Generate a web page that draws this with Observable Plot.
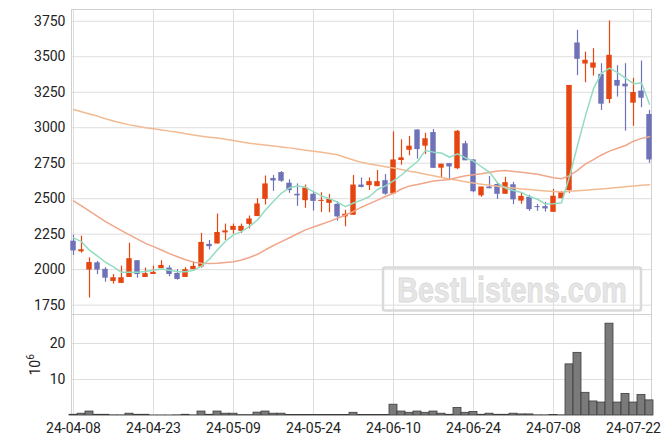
<!DOCTYPE html>
<html><head><meta charset="utf-8">
<script src="https://cdn.jsdelivr.net/npm/d3@7"></script>
<script src="https://cdn.jsdelivr.net/npm/@observablehq/plot@0.6"></script>
<style>
html,body{margin:0;padding:0;background:#fff;}
#wrap{position:relative;width:671px;height:444px;overflow:hidden;font-family:Roboto,sans-serif;}
#wrap > svg{position:absolute;left:0;}
#wrap > #vlabel{position:absolute;left:22px;top:355px;transform-origin:center;transform:rotate(-90deg);font-size:14px;line-height:16px;color:#222;white-space:nowrap;}
#vlabel sup{font-size:10px;}
</style></head>
<body><div id="wrap"></div>
<script>
const dates = ["24-04-08","24-04-09","24-04-11","24-04-12","24-04-15","24-04-16","24-04-17","24-04-18","24-04-19","24-04-22",
"24-04-23","24-04-24","24-04-25","24-04-26","24-04-29","24-04-30","24-05-02","24-05-03","24-05-07","24-05-08",
"24-05-09","24-05-10","24-05-13","24-05-14","24-05-16","24-05-17","24-05-20","24-05-21","24-05-22","24-05-23",
"24-05-24","24-05-27","24-05-28","24-05-29","24-05-30","24-05-31","24-06-03","24-06-04","24-06-05","24-06-07",
"24-06-10","24-06-11","24-06-12","24-06-13","24-06-14","24-06-17","24-06-18","24-06-19","24-06-20","24-06-21",
"24-06-24","24-06-25","24-06-26","24-06-27","24-06-28","24-07-01","24-07-02","24-07-03","24-07-04","24-07-05",
"24-07-08","24-07-09","24-07-10","24-07-11","24-07-12","24-07-15","24-07-16","24-07-17","24-07-18","24-07-19",
"24-07-22","24-07-23","24-07-24"];
const open = [2200,2126,1997,2048,2002,1917,1903,1945,2063,1945,1966,2007,2011,1973,1945,2000,2018,2178,2181,2259,
2277,2270,2319,2374,2495,2642,2684,2609,2531,2486,2531,2481,2467,2460,2372,2383,2596,2592,2585,2627,
2533,2769,2841,2984,2870,2966,2715,2747,2711,2887,2773,2520,2582,2600,2531,2598,2483,2510,2444,2444,
2404,2500,2557,3597,3449,3420,3376,3199,3333,3307,3173,3258,3093];
const high = [2243,2236,2083,2058,2014,1965,2025,2186,2063,2011,2025,2063,2027,2000,2014,2054,2255,2206,2392,2321,
2321,2321,2378,2500,2660,2663,2691,2633,2604,2596,2547,2542,2531,2479,2418,2663,2646,2646,2698,2670,
2971,2915,2939,2984,2961,2987,2743,2747,2980,2905,2773,2582,2656,2610,2651,2615,2538,2524,2460,2474,
2566,2552,3298,3686,3533,3557,3451,3752,3437,3451,3348,3470,3122];
const low = [2100,2116,1800,1965,1912,1898,1903,1945,1940,1945,1966,2007,1950,1926,1945,2000,2011,2139,2181,2206,
2250,2255,2287,2374,2455,2552,2616,2538,2446,2432,2413,2402,2401,2341,2302,2383,2577,2557,2585,2524,
2533,2736,2802,2779,2811,2714,2646,2627,2705,2767,2542,2510,2570,2495,2531,2458,2460,2411,2411,2406,
2404,2500,2538,3367,3317,3364,3122,3169,3216,2976,3010,3141,2750];
const close = [2132,2140,2050,1997,1940,1943,1943,2077,1966,1972,1981,2030,1966,1931,2000,2023,2192,2162,2262,2273,
2305,2305,2357,2463,2604,2625,2623,2557,2520,2575,2481,2488,2495,2372,2390,2596,2579,2620,2620,2532,
2773,2788,2870,2846,2922,2714,2743,2724,2975,2767,2549,2582,2570,2531,2613,2492,2516,2423,2437,2428,
2517,2543,3298,3482,3475,3456,3166,3510,3293,3288,3248,3208,2773];
const volume = [0.2,0.5,1.1,0.2,0.2,0.05,0.05,0.5,0.2,0.2,0.02,0.02,0.02,0.05,0.2,0.05,1.1,0.2,1.1,0.5,
0.5,0.1,0.1,0.8,1.1,0.5,0.5,0.15,0.15,0.12,0.12,0.12,0.12,0.12,0.15,0.75,0.15,0.12,0.12,0.15,
3.0,1.1,0.75,1.1,0.75,1.1,0.5,0.2,2.1,0.75,1.0,0.2,0.5,0.2,0.2,0.5,0.3,0.3,0.05,0.05,
0.15,0.05,14.2,17.4,6.3,3.9,3.6,25.5,3.6,6.0,3.6,5.7,4.2];
const ma5 = [2224,2197,2137,2095,2052,2019,1981,1981,1981,1987,1995,2005,1995,1985,1985,1995,2025,2075,2140,2200,
2245,2268,2305,2350,2420,2482,2540,2577,2590,2580,2550,2520,2500,2475,2444,2470,2490,2515,2565,2590,
2625,2667,2717,2762,2840,2828,2822,2792,2816,2787,2765,2725,2687,2612,2574,2558,2544,2515,2496,2462,
2464,2472,2655,2875,3085,3275,3385,3420,3388,3350,3310,3315,3166];
const ma20 = [2484,2450,2412,2375,2338,2307,2275,2245,2215,2185,2162,2138,2113,2091,2070,2053,2045,2043,2045,2050,
2056,2068,2086,2108,2140,2170,2197,2225,2253,2280,2300,2320,2340,2362,2385,2410,2440,2465,2490,2515,
2538,2568,2590,2600,2612,2624,2630,2636,2650,2662,2668,2675,2685,2695,2698,2692,2686,2680,2672,2660,
2648,2640,2662,2700,2745,2775,2808,2835,2855,2875,2905,2925,2937];
const ma60 = [3128,3112,3097,3082,3063,3048,3033,3020,3010,3000,2992,2984,2976,2968,2958,2948,2940,2933,2927,2918,
2910,2900,2891,2884,2878,2872,2865,2858,2850,2842,2834,2827,2819,2810,2790,2772,2756,2745,2735,2725,
2716,2705,2694,2685,2672,2662,2650,2639,2630,2620,2610,2602,2595,2588,2581,2575,2569,2564,2559,2555,
2550,2547,2552,2556,2560,2564,2568,2573,2578,2584,2589,2594,2598];
const priceTicks = [1750,2000,2250,2500,2750,3000,3250,3500,3750];
const volumeTicks = [10,20];
const xTicks = [0,10,20,30,40,50,60,70];

const UP = "#e5450f", DOWN = "#6e72b6";
const GREEN = "#93dcc2", ORANGE20 = "#efa68a", ORANGE60 = "#f2ba92";
const GRID = "#dedede", FRAME = "#d0d0d0";
const n = dates.length;
const idx = d3.range(n);
const candles = idx.map(i => ({i, o: open[i], h: high[i], l: low[i], c: close[i],
  col: close[i] >= open[i] ? UP : DOWN}));
const xDomain = [-0.25, n - 0.75];
const font = {fontFamily: "Roboto, sans-serif", fontSize: "14px", color: "#222", background: "transparent", overflow: "visible"};

const price = Plot.plot({
  width: 671, height: 314, marginLeft: 71, marginRight: 20, marginTop: 9, marginBottom: 0,
  style: font,
  color: {type: "identity"},
  x: {type: "linear", domain: xDomain, axis: null},
  y: {domain: [1684, 3833], ticks: priceTicks, tickSize: 0, tickPadding: 6, label: null, tickFormat: d => String(d)},
  marks: [
    Plot.gridX(xTicks, {stroke: GRID, strokeOpacity: 1}),
    Plot.gridY(priceTicks, {stroke: GRID, strokeOpacity: 1}),
    Plot.frame({stroke: FRAME}),
    Plot.ruleX(candles, {x: "i", y1: "l", y2: "h", stroke: "col", strokeWidth: 1.2}),
    Plot.rect(candles, {x1: d => d.i - 0.34, x2: d => d.i + 0.34, y1: "o", y2: "c", fill: "col"}),
    Plot.line(idx, {x: i => i, y: i => ma60[i], stroke: ORANGE60, strokeWidth: 1.5}),
    Plot.line(idx, {x: i => i, y: i => ma20[i], stroke: ORANGE20, strokeWidth: 1.5}),
    Plot.line(idx, {x: i => i, y: i => ma5[i], stroke: GREEN, strokeWidth: 1.5})
  ]
});
price.style.top = "0px";

const vol = Plot.plot({
  width: 671, height: 130, marginLeft: 71, marginRight: 20, marginTop: 0, marginBottom: 29,
  style: font,
  x: {type: "linear", domain: xDomain, ticks: xTicks, tickSize: 0, tickPadding: 8, label: null,
      tickFormat: i => dates[i]},
  y: {domain: [0, 28.05], ticks: volumeTicks, tickSize: 0, tickPadding: 6, label: null},
  marks: [
    Plot.gridX(xTicks, {stroke: GRID, strokeOpacity: 1}),
    Plot.gridY(volumeTicks, {stroke: GRID, strokeOpacity: 1}),
    Plot.frame({stroke: FRAME}),
    Plot.rectY(idx, {x1: i => i - 0.5, x2: i => i + 0.5, y: i => volume[i], fill: "#7a7a7a", stroke: "#3c3c3c", strokeWidth: 0.8}),
    Plot.ruleY([0], {stroke: "#aaa"})
  ]
});
vol.style.top = "314px";

const wrap = document.getElementById("wrap");
wrap.appendChild(price);
wrap.appendChild(vol);

const lab = document.createElement("div");
lab.id = "vlabel";
lab.innerHTML = "10<sup>6</sup>";
wrap.appendChild(lab);

const ns = "http://www.w3.org/2000/svg";
const wm = document.createElementNS(ns, "svg");
wm.setAttribute("width", 671); wm.setAttribute("height", 444);
wm.style.position = "absolute"; wm.style.left = "0"; wm.style.top = "0"; wm.style.pointerEvents = "none";
const box = document.createElementNS(ns, "rect");
box.setAttribute("x", 383); box.setAttribute("y", 267.5); box.setAttribute("width", 258); box.setAttribute("height", 43);
box.setAttribute("rx", 2); box.setAttribute("fill", "none"); box.setAttribute("stroke", "#dadada"); box.setAttribute("stroke-width", 2.5);
wm.appendChild(box);
const g = document.createElementNS(ns, "g");
g.setAttribute("transform", "translate(512,301.5) scale(0.82,1)");
const t = document.createElementNS(ns, "text");
t.setAttribute("x", 0); t.setAttribute("y", 0);
t.setAttribute("text-anchor", "middle");
t.setAttribute("font-family", "Liberation Sans, Arial, sans-serif"); t.setAttribute("font-weight", "bold");
t.setAttribute("font-size", 35); t.setAttribute("fill", "#e6e6e6"); t.setAttribute("stroke", "#d9d9d9"); t.setAttribute("stroke-width", 0.8);
t.textContent = "BestListens.com";
g.appendChild(t);
wm.appendChild(g);
wrap.appendChild(wm);
</script>
</body></html>
